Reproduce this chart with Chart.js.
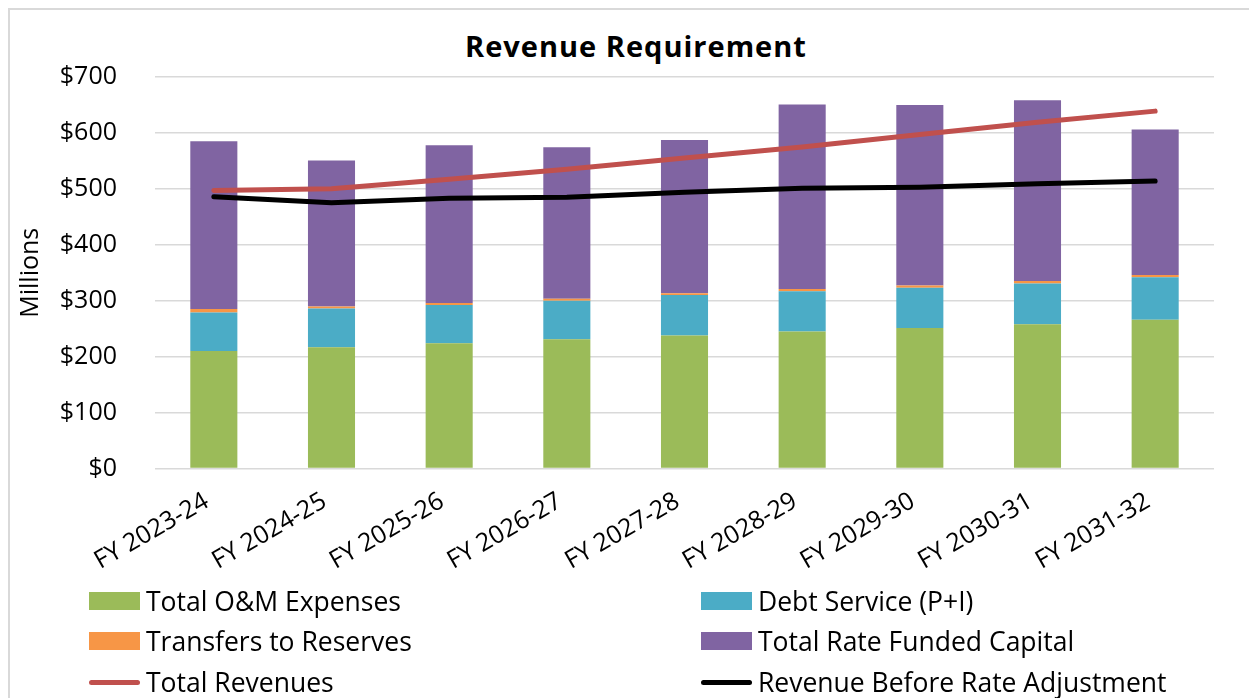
<!DOCTYPE html>
<html>
<head>
<meta charset="utf-8">
<script src="https://cdn.jsdelivr.net/npm/chart.js@4/dist/chart.umd.min.js"></script>
<style>
  body { margin: 0; background: #fff; font-family: "Open Sans", sans-serif; }
  #frame { position: absolute; left: 8px; top: 8px; width: 1300px; height: 800px; border: 2px solid #d9d9d9; }
  #wrap { position: absolute; left: 0; top: 0; width: 1249px; height: 585px; }
  #title { position: absolute; left: 0; width: 1272px; top: 26px; text-align: center; font-weight: bold; font-size: 29px; letter-spacing: 1px; color: #000; }
  .leg { position: absolute; height: 30px; display: flex; align-items: center; font-size: 26.5px; color: #000; white-space: nowrap; }
  .sw { width: 51px; margin-right: 6px; }
</style>
</head>
<body>
<div id="frame"></div>
<div id="title">Revenue Requirement</div>
<div id="wrap"><canvas id="rev-chart"></canvas></div>
<div id="legend"></div>
<script>
// values in $ millions
const years = ['FY 2023-24', 'FY 2024-25', 'FY 2025-26', 'FY 2026-27', 'FY 2027-28',
               'FY 2028-29', 'FY 2029-30', 'FY 2030-31', 'FY 2031-32'];
const omExpenses = [210, 217, 224, 231, 238, 245, 251, 258, 266];
const debtService = [69, 69, 68.5, 69, 72, 72, 72, 73, 76];
const transfers = [6, 3.5, 3.5, 3.5, 3.5, 4, 4, 4.3, 4.2];
const rateCapital = [300, 261, 282, 271, 274, 330, 323, 323, 260];
const totalRevenues = [497, 500, 517, 535, 555, 575, 597, 619, 639];
const revBeforeAdj = [486, 475, 483, 485, 494, 501, 503, 509, 514];
const yTicks = [0, 100, 200, 300, 400, 500, 600, 700];

const font = { family: 'Open Sans', size: 25 };

const ctx = document.getElementById('rev-chart').getContext('2d');
const chart = new Chart(ctx, {
    type: 'bar',
    data: {
        labels: years,
        datasets: [
            { label: 'Total O&M Expenses', data: omExpenses, backgroundColor: '#9bbb59', order: 2 },
            { label: 'Debt Service (P+I)', data: debtService, backgroundColor: '#4bacc6', order: 2 },
            { label: 'Transfers to Reserves', data: transfers, backgroundColor: '#f79646', order: 2 },
            { label: 'Total Rate Funded Capital', data: rateCapital, backgroundColor: '#8064a2', order: 2 },
            { type: 'line', label: 'Total Revenues', data: totalRevenues, stack: 'rev',
              borderColor: '#c0504d', backgroundColor: '#c0504d', borderWidth: 5, pointRadius: 0,
              borderCapStyle: 'round', borderJoinStyle: 'round', tension: 0, order: 0 },
            { type: 'line', label: 'Revenue Before Rate Adjustment', data: revBeforeAdj, stack: 'base',
              borderColor: '#000000', backgroundColor: '#000000', borderWidth: 5, pointRadius: 0,
              borderCapStyle: 'round', borderJoinStyle: 'round', tension: 0, order: 1 }
        ]
    },
    options: {
        responsive: true,
        maintainAspectRatio: false,
        animation: false,
        layout: { padding: { left: 10, right: 35, top: 77, bottom: 0 } },
        datasets: { bar: { categoryPercentage: 0.4, barPercentage: 1 } },
        plugins: { legend: { display: false }, tooltip: { enabled: false } },
        scales: {
            x: {
                stacked: true,
                grid: { display: false },
                border: { display: false },
                ticks: { color: '#000', font: font, minRotation: 30, maxRotation: 30, padding: 10, labelOffset: -7 },
                afterFit: s => { s.height = 116.5; }
            },
            y: {
                stacked: true,
                min: 0, max: 700,
                afterBuildTicks: s => { s.ticks = yTicks.map(v => ({ value: v })); },
                grid: { color: '#d9d9d9', lineWidth: 1.5, drawTicks: false },
                border: { display: false },
                ticks: { color: '#000', font: font, padding: 38, callback: v => '$' + v },
                title: { display: true, text: 'Millions', color: '#000', font: font, padding: { top: 6, bottom: 0 } },
                afterFit: s => { s.width = 145; }
            }
        }
    }
});

// two-column legend below the plot
const legendSpots = [[89, 586], [701, 586], [89, 626], [701, 626], [89, 667], [701, 667]];
const legend = document.getElementById('legend');
chart.data.datasets.forEach((ds, i) => {
    const item = document.createElement('div');
    item.className = 'leg';
    item.style.left = legendSpots[i][0] + 'px';
    item.style.top = legendSpots[i][1] + 'px';
    const sw = document.createElement('span');
    sw.className = 'sw';
    if (ds.type === 'line') {
        sw.style.height = '5px';
        sw.style.borderRadius = '3px';
        sw.style.background = ds.borderColor;
    } else {
        sw.style.height = '18px';
        sw.style.background = ds.backgroundColor;
    }
    item.appendChild(sw);
    item.appendChild(document.createTextNode(ds.label));
    legend.appendChild(item);
});
</script>
</body>
</html>
